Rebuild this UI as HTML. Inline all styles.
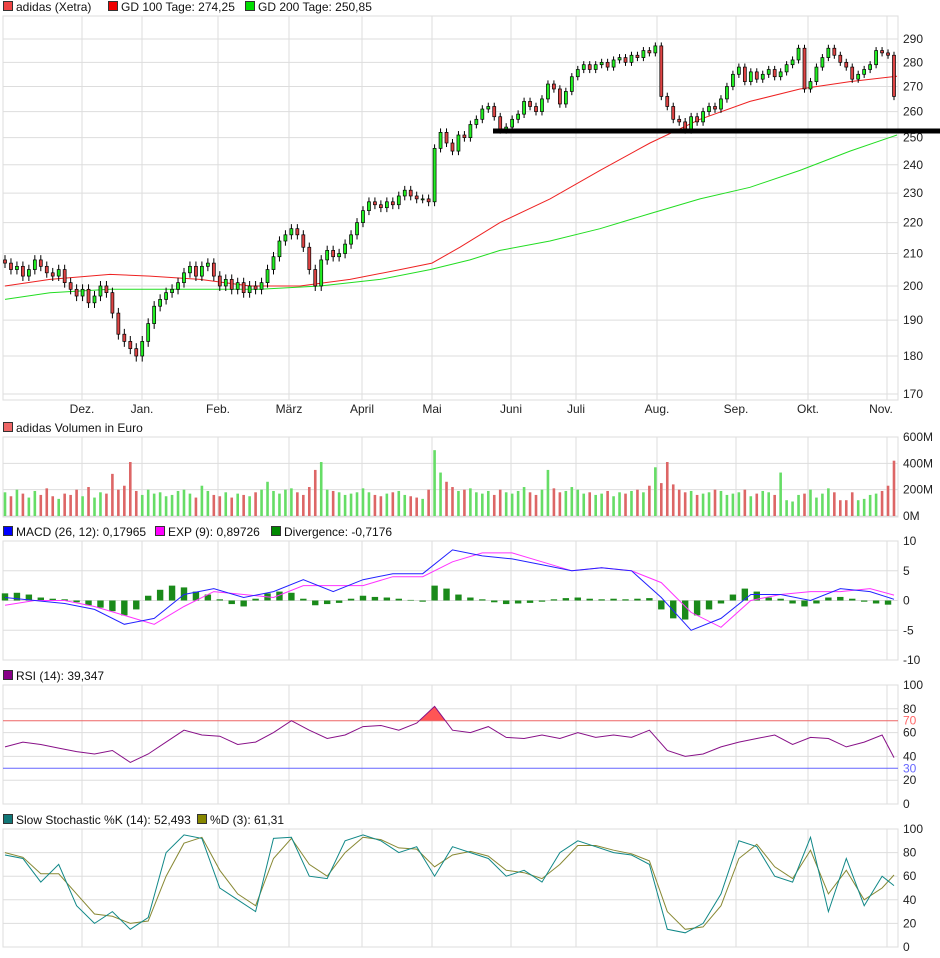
<!DOCTYPE html>
<html><head><meta charset="utf-8"><style>
body{margin:0;background:#fff;}
svg{display:block;font-family:"Liberation Sans",sans-serif;font-size:12px;}
</style></head><body>
<svg id="c" width="940" height="958"></svg>
<script>
const closes=[207,205,206,203,205,208,206,204,203,205,
201,199,197,199,195,197,200,198,192,186,
184,182,180,184,189,194,196,198,199,201,
204,206,203,206,207,203,200,202,199,201,
198,200,199,201,205,209,214,216,218,216,
212,205,200,208,211,209,210,213,216,220,
224,227,226,225,227,226,229,231,229,228,
228,227,246,252,248,245,251,250,255,257,
261,262,258,253,254,257,259,264,262,260,
265,271,269,263,268,274,277,279,277,279,
280,278,281,282,280,283,282,285,284,287,
266,262,257,256,253,258,256,260,262,261,
265,270,275,278,272,276,273,275,277,274,
276,279,281,286,269,272,278,282,286,283,
280,278,273,275,277,279,285,284,283,266];
const volumes=[180,150,200,170,140,190,160,210,150,130,
170,160,200,150,220,140,180,170,320,200,
230,410,190,160,200,170,180,150,160,190,
200,170,140,230,190,160,150,180,140,170,
160,150,180,200,260,190,170,200,210,180,
160,220,350,410,200,190,180,160,170,180,
210,180,160,150,170,180,190,160,150,140,
130,200,500,330,260,220,190,200,210,180,
170,190,160,200,180,170,190,220,180,160,
200,350,210,180,190,220,200,170,180,160,
170,190,150,180,170,190,200,180,230,370,
250,410,240,200,180,190,160,170,180,200,
190,160,170,180,200,150,170,190,180,160,
330,120,110,160,170,200,140,170,210,180,
120,120,180,120,130,160,170,190,230,420];
const ma100=[200,202,203.5,203,202,200,200,202,205,207,212,220,228,238,248,257,264,269,272,274.2];
const ma100x=[5,50,110,150,200,250,300,350,400,432,460,500,550,600,650,700,750,800,850,897];
const ma200=[196,198,199,199,199,200,202,205,208,211,214,218,223,228,232,238,245,251];
const ma200x=[5,50,110,200,260,320,380,430,470,500,550,600,650,700,750,800,850,897];
const macd=[0.5,0,-0.5,-1.5,-4,-3,1,2,0.5,1.5,3.5,1.5,3.5,4.5,4.5,8.5,7.5,7,6,5,5.5,5,0.5,-5,-3,1,1,0,2,1.5,0.2];
const expo=[-0.8,0,0,-1,-2.5,-4,-1,1.5,1,0.5,2.5,2.5,2.5,4,4,6.5,8,8,6.5,5,5.5,5,3,-2,-4.5,0,1,1.5,1.5,2,0.9];
const divergence=[1.2,1.3,1,0.5,0.3,0.2,-0.3,-0.8,-1.2,-1.8,-2.5,-1.5,0.8,1.8,2.5,2.2,1.5,1,0.2,-0.6,
-1,0.3,1.2,1.5,1.3,0.3,-0.8,-0.6,-0.4,0.3,0.8,0.6,0.5,0.3,0.1,-0.2,2.5,2,1,0.5,
0.2,-0.3,-0.6,-0.5,-0.4,-0.2,0.2,0.4,0.5,0.3,0.2,0.3,0.2,0.3,0.4,-1.5,-3,-3.2,-2.5,-1.5,
-0.5,1,2,1.5,0.5,0.3,-0.5,-1,-0.5,0.5,0.6,0.3,-0.2,-0.5,-0.7];
const rsi=[48,52,50,47,44,42,45,35,42,52,62,58,57,50,52,60,70,62,55,58,65,66,62,68,82,62,60,65,56,55,58,55,60,56,58,56,62,45,40,42,48,52,55,58,50,56,55,48,52,58,39];
const stochK=[78,75,55,70,35,20,30,15,25,80,95,92,50,40,30,92,93,60,58,90,95,90,80,85,60,85,80,75,60,65,55,80,90,85,80,78,70,15,12,20,45,90,85,60,55,93,30,75,35,60,52];
const stochD=[80,76,62,62,45,28,26,20,22,60,88,93,65,45,35,75,92,70,60,80,93,91,84,83,68,78,81,77,65,63,58,70,86,86,82,79,73,30,15,17,35,75,87,68,58,82,45,65,40,50,61];
const priceTicks=[290,280,270,260,250,240,230,220,210,200,190,180,170];
const volTicks=[600,400,200,0];
const macdTicks=[10,5,0,-5,-10];
const rsiTicks=[100,80,60,40,20,0];
const months=["Dez.","Jan.","Feb.","März","April","Mai","Juni","Juli","Aug.","Sep.","Okt.","Nov."];
const monthX=[82,142,218,289,362,432,511,576,657,736,808,887];

const NS="http://www.w3.org/2000/svg";
const svg=document.getElementById('c');
function mk(tag,attrs,parent){const e=document.createElementNS(NS,tag);for(const k in attrs)e.setAttribute(k,attrs[k]);(parent||svg).appendChild(e);return e;}
const L=3,R=898;
const N=closes.length;
const bx=i=>5+i*(R-7-5+3)/(N-1);
const py=p=>39+664.7*(Math.log(290)-Math.log(p));
const vy=v=>516-v*(79/600);
const my=v=>600.5-v*5.95;
const ry=v=>804-v*1.19;
const sy=v=>947-v*1.18;
const sparseX=(k,stride)=>bx(Math.min(k*stride,N-1));

function panel(name,top,bot,ticks,yf,fmt){
  const g=mk('g',{});
  
  
  mk('rect',{x:L,y:top,width:R-L,height:bot-top,fill:'#fff',stroke:'#ddd'},g);
  monthX.forEach(x=>mk('line',{x1:x,x2:x,y1:top,y2:bot,stroke:'#ddd'},g));
  ticks.forEach(t=>{const y=yf(t);mk('line',{x1:L,x2:R,y1:y,y2:y,stroke:'#ddd'},g);
    const tx=mk('text',{x:903,y:y+4,fill:'#222'},g);tx.textContent=fmt(t);});
  return g;
}
function legend(items,y){
  let x=3;items.forEach(it=>{
    const r=mk('rect',{x:x+0.5,y:y-9.5,width:9,height:9,fill:it[1],stroke:'#333'});
    
    const t=mk('text',{x:x+13,y:y,fill:'#111'});t.textContent=it[0];
    
    x+=it[2];});
}
// main
panel('price-panel',16,400,priceTicks,py,t=>t);
legend([["adidas (Xetra)",'#e44',105],["GD 100 Tage: 274,25",'#e00',137],["GD 200 Tage: 250,85",'#0d0',120]],11);
months.forEach((m,i)=>{const t=mk('text',{x:monthX[i]-(i==11?6:0),y:413,'text-anchor':'middle',fill:'#222'});t.textContent=m;
  });
function poly(xs,ys,yf,color,name,w){const pts=xs.map((x,i)=>x.toFixed(1)+','+yf(ys[i]).toFixed(1)).join(' ');
  const p=mk('polyline',{points:pts,fill:'none',stroke:color,'stroke-width':w||1});return p;}
poly(ma200x,ma200,py,'#2d2','gd200-line');
poly(ma100x,ma100,py,'#e22','gd100-line');
for(let i=0;i<N;i++){
  const o=i?closes[i-1]:closes[0]+1, c=closes[i], x=bx(i);
  const hi=Math.max(o,c)+1.5, lo=Math.min(o,c)-1.5;
  const w=mk('line',{x1:x,x2:x,y1:py(hi),y2:py(lo),stroke:'#000'});
  
  const t=py(Math.max(o,c)),b=py(Math.min(o,c));
  const r=mk('rect',{x:x-1.5,y:t,width:3,height:Math.max(1,b-t),fill:c>=o?'#2e2':'#d44',stroke:'#000','stroke-width':0.7});
  
}
const sl=mk('line',{x1:493,x2:940,y1:py(252.5),y2:py(252.5),stroke:'#000','stroke-width':5});

// volume
panel('volume-panel',437,517,volTicks,vy,t=>t+'M');
legend([["adidas Volumen in Euro",'#e66',200]],432);
for(let i=0;i<N;i++){const up=i==0||closes[i]>=closes[i-1];const x=bx(i);
  const r=mk('rect',{x:x-1.3,y:vy(volumes[i]),width:2.6,height:516-vy(volumes[i]),fill:up?'#6d6':'#d66'});
  }
// macd
panel('macd-panel',541,660,macdTicks,my,t=>t);
legend([["MACD (26, 12): 0,17965",'#00f',152],["EXP (9): 0,89726",'#f0f',116],["Divergence: -0,7176",'#080',130]],536);
divergence.forEach((d,k)=>{const x=sparseX(k,2);const y0=my(0),y1=my(d);
  const r=mk('rect',{x:x-3.2,y:Math.min(y0,y1),width:6.4,height:Math.max(0.5,Math.abs(y1-y0)),fill:'#1a8a1a'});
  });
const mxs=macd.map((_,k)=>sparseX(k,5));
poly(mxs,expo,my,'#f3f','exp-line');
poly(mxs,macd,my,'#22f','macd-line');
// rsi
panel('rsi-panel',685,804,rsiTicks,ry,t=>t);
legend([["RSI (14): 39,347",'#808',140]],680);
const rxs=rsi.map((_,k)=>sparseX(k,3));
const clip=mk('clipPath',{id:'above70'});
mk('rect',{x:0,y:0,width:940,height:ry(70)},clip);
const ap=mk('polygon',{points:rxs.map((x,i)=>x+','+ry(rsi[i])).join(' ')+' '+rxs[rxs.length-1]+','+ry(70)+' '+rxs[0]+','+ry(70),fill:'#f55','clip-path':'url(#above70)'});

const l70=mk('line',{x1:L,x2:R,y1:ry(70),y2:ry(70),stroke:'#e66'});
const l30=mk('line',{x1:L,x2:R,y1:ry(30),y2:ry(30),stroke:'#66f'});
const t70=mk('text',{x:903,y:ry(70)+4,fill:'#f66'});t70.textContent='70';
const t30=mk('text',{x:903,y:ry(30)+4,fill:'#66f'});t30.textContent='30';
poly(rxs,rsi,ry,'#818','rsi-line');
// stoch
panel('stochastic-panel',829,947,rsiTicks,sy,t=>t);
legend([["Slow Stochastic %K (14): 52,493",'#177',194],["%D (3): 61,31",'#880',100]],824);
poly(rxs,stochD,sy,'#883','stoch-d-line');
poly(rxs,stochK,sy,'#188','stoch-k-line');
</script>
</body></html>
